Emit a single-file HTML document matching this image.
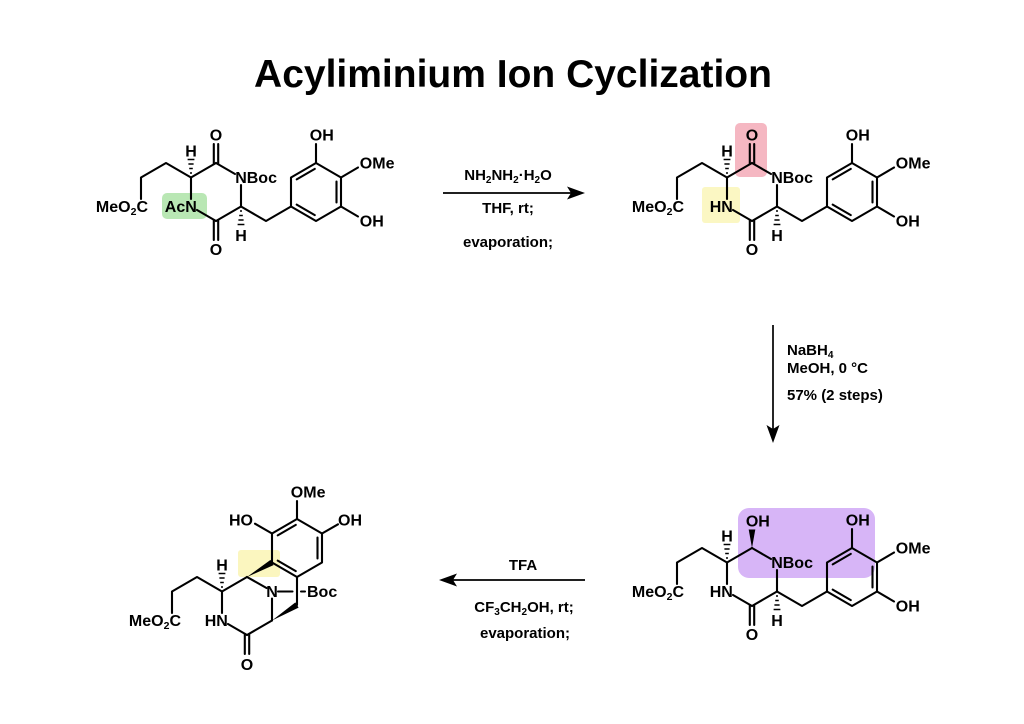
<!DOCTYPE html>
<html>
<head>
<meta charset="utf-8">
<style>
  html,body{margin:0;padding:0;background:#fff;}
  svg{display:block;}
  text{font-family:"Liberation Sans",Arial,sans-serif;font-weight:bold;font-size:15px;fill:#000;}
  .m text{font-size:16px;}
</style>
</head>
<body>
<svg width="1024" height="724" viewBox="0 0 1024 724" xmlns="http://www.w3.org/2000/svg">
  <rect width="1024" height="724" fill="#fff"/>

  <!-- Title -->
  <text x="513" y="87" text-anchor="middle" style="font-size:39px" fill="#000">Acyliminium Ion Cyclization</text>

  <!-- ========== Molecule 1 (top-left) ========== -->
  <g class="m" transform="translate(216,163)">
    <rect x="-54" y="30" width="45" height="26" rx="5" fill="#b9e7b4"/>
    <g stroke="#000" stroke-width="2.1" fill="none" stroke-linecap="round" stroke-linejoin="round">
      <line x1="-25" y1="14.5" x2="0" y2="0"/>
      <line x1="0" y1="0" x2="19" y2="11"/>
      <line x1="25" y1="22" x2="25" y2="43.5"/>
      <line x1="25" y1="43.5" x2="0" y2="58"/>
      <line x1="0" y1="58" x2="-19" y2="47"/>
      <line x1="-25" y1="36" x2="-25" y2="14.5"/>
      <line x1="-2.2" y1="1" x2="-2.2" y2="-19"/>
      <line x1="2.2" y1="1" x2="2.2" y2="-19"/>
      <line x1="-2.2" y1="57" x2="-2.2" y2="77"/>
      <line x1="2.2" y1="57" x2="2.2" y2="77"/>
      <polyline points="-25,14.5 -50,0 -75,14.5 -75,36"/>
      <polyline points="25,43.5 50,58 75,43.5"/>
      <polygon points="75,43.5 75,14.5 100,0 125,14.5 125,43.5 100,58"/>
      <line x1="80.7" y1="16.4" x2="98.8" y2="5.9"/>
      <line x1="120.5" y1="18.5" x2="120.5" y2="39.5"/>
      <line x1="98.8" y1="52.1" x2="80.7" y2="41.6"/>
      <line x1="100" y1="0" x2="100" y2="-19"/>
      <line x1="125" y1="14.5" x2="142" y2="4.5"/>
      <line x1="125" y1="43.5" x2="142" y2="53.5"/>
    </g>
    <g stroke="#000" stroke-width="1.5">
      <line x1="-26" y1="10" x2="-24" y2="10"/>
      <line x1="-26.8" y1="5.5" x2="-23.2" y2="5.5"/>
      <line x1="-27.6" y1="1" x2="-22.4" y2="1"/>
      <line x1="-28.4" y1="-3.5" x2="-21.6" y2="-3.5"/>
      <line x1="24" y1="48" x2="26" y2="48"/>
      <line x1="23.2" y1="52.5" x2="26.8" y2="52.5"/>
      <line x1="22.4" y1="57" x2="27.6" y2="57"/>
      <line x1="21.6" y1="61.5" x2="28.4" y2="61.5"/>
    </g>
    <text x="0" y="-22.3" text-anchor="middle">O</text>
    <text x="0" y="91.8" text-anchor="middle">O</text>
    <text x="-25" y="-6.5" text-anchor="middle">H</text>
    <text x="25" y="78" text-anchor="middle">H</text>
    <text x="19.2" y="20.2">NBoc</text>
    <text x="-19.2" y="49.2" text-anchor="end">AcN</text>
    <text x="-68" y="49.2" text-anchor="end">MeO<tspan style="font-size:10.5px" dy="3">2</tspan><tspan dy="-3">C</tspan></text>
    <text x="93.8" y="-22.3">OH</text>
    <text x="143.8" y="5.7">OMe</text>
    <text x="143.8" y="63.7">OH</text>
  </g>

  <!-- Arrow 1 -->
  <line x1="443" y1="193" x2="572" y2="193" stroke="#000" stroke-width="1.7"/>
  <polygon points="585,193 567,186.5 571,193 567,199.5" fill="#000"/>
  <text x="508" y="180" text-anchor="middle">NH<tspan style="font-size:10px" dy="3">2</tspan><tspan dy="-3">NH</tspan><tspan style="font-size:10px" dy="3">2</tspan><tspan dy="-3">·H</tspan><tspan style="font-size:10px" dy="3">2</tspan><tspan dy="-3">O</tspan></text>
  <text x="508" y="213" text-anchor="middle">THF, rt;</text>
  <text x="508" y="247" text-anchor="middle">evaporation;</text>

  <!-- ========== Molecule 2 (top-right) ========== -->
  <g class="m" transform="translate(752,163)">
    <rect x="-17" y="-40" width="32" height="54" rx="5" fill="#f5b7c2"/>
    <rect x="-50" y="24" width="38" height="36" rx="3" fill="#fbf7c3"/>
    <g stroke="#000" stroke-width="2.1" fill="none" stroke-linecap="round" stroke-linejoin="round">
      <line x1="-25" y1="14.5" x2="0" y2="0"/>
      <line x1="0" y1="0" x2="19" y2="11"/>
      <line x1="25" y1="22" x2="25" y2="43.5"/>
      <line x1="25" y1="43.5" x2="0" y2="58"/>
      <line x1="0" y1="58" x2="-19" y2="47"/>
      <line x1="-25" y1="36" x2="-25" y2="14.5"/>
      <line x1="-2.2" y1="1" x2="-2.2" y2="-19"/>
      <line x1="2.2" y1="1" x2="2.2" y2="-19"/>
      <line x1="-2.2" y1="57" x2="-2.2" y2="77"/>
      <line x1="2.2" y1="57" x2="2.2" y2="77"/>
      <polyline points="-25,14.5 -50,0 -75,14.5 -75,36"/>
      <polyline points="25,43.5 50,58 75,43.5"/>
      <polygon points="75,43.5 75,14.5 100,0 125,14.5 125,43.5 100,58"/>
      <line x1="80.7" y1="16.4" x2="98.8" y2="5.9"/>
      <line x1="120.5" y1="18.5" x2="120.5" y2="39.5"/>
      <line x1="98.8" y1="52.1" x2="80.7" y2="41.6"/>
      <line x1="100" y1="0" x2="100" y2="-19"/>
      <line x1="125" y1="14.5" x2="142" y2="4.5"/>
      <line x1="125" y1="43.5" x2="142" y2="53.5"/>
    </g>
    <g stroke="#000" stroke-width="1.5">
      <line x1="-26" y1="10" x2="-24" y2="10"/>
      <line x1="-26.8" y1="5.5" x2="-23.2" y2="5.5"/>
      <line x1="-27.6" y1="1" x2="-22.4" y2="1"/>
      <line x1="-28.4" y1="-3.5" x2="-21.6" y2="-3.5"/>
      <line x1="24" y1="48" x2="26" y2="48"/>
      <line x1="23.2" y1="52.5" x2="26.8" y2="52.5"/>
      <line x1="22.4" y1="57" x2="27.6" y2="57"/>
      <line x1="21.6" y1="61.5" x2="28.4" y2="61.5"/>
    </g>
    <text x="0" y="-22.3" text-anchor="middle">O</text>
    <text x="0" y="91.8" text-anchor="middle">O</text>
    <text x="-25" y="-6.5" text-anchor="middle">H</text>
    <text x="25" y="78" text-anchor="middle">H</text>
    <text x="19.2" y="20.2">NBoc</text>
    <text x="-19.2" y="49.2" text-anchor="end">HN</text>
    <text x="-68" y="49.2" text-anchor="end">MeO<tspan style="font-size:10.5px" dy="3">2</tspan><tspan dy="-3">C</tspan></text>
    <text x="93.8" y="-22.3">OH</text>
    <text x="143.8" y="5.7">OMe</text>
    <text x="143.8" y="63.7">OH</text>
  </g>

  <!-- Arrow 2 (vertical) -->
  <line x1="773" y1="325" x2="773" y2="430" stroke="#000" stroke-width="1.7"/>
  <polygon points="773,443 766.5,425 773,429 779.5,425" fill="#000"/>
  <text x="787" y="355">NaBH<tspan style="font-size:10px" dy="3">4</tspan></text>
  <text x="787" y="373">MeOH, 0 °C</text>
  <text x="787" y="400">57% (2 steps)</text>

  <!-- ========== Molecule 3 (bottom-right) ========== -->
  <g class="m" transform="translate(752,548)">
    <rect x="-14" y="-40" width="137" height="70" rx="11" fill="#d7b5f7"/>
    <g stroke="#000" stroke-width="2.1" fill="none" stroke-linecap="round" stroke-linejoin="round">
      <line x1="-25" y1="14.5" x2="0" y2="0"/>
      <line x1="0" y1="0" x2="19" y2="11"/>
      <line x1="25" y1="22" x2="25" y2="43.5"/>
      <line x1="25" y1="43.5" x2="0" y2="58"/>
      <line x1="0" y1="58" x2="-19" y2="47"/>
      <line x1="-25" y1="36" x2="-25" y2="14.5"/>
      <line x1="-2.2" y1="57" x2="-2.2" y2="77"/>
      <line x1="2.2" y1="57" x2="2.2" y2="77"/>
      <polyline points="-25,14.5 -50,0 -75,14.5 -75,36"/>
      <polyline points="25,43.5 50,58 75,43.5"/>
      <polygon points="75,43.5 75,14.5 100,0 125,14.5 125,43.5 100,58"/>
      <line x1="80.7" y1="16.4" x2="98.8" y2="5.9"/>
      <line x1="120.5" y1="18.5" x2="120.5" y2="39.5"/>
      <line x1="98.8" y1="52.1" x2="80.7" y2="41.6"/>
      <line x1="100" y1="0" x2="100" y2="-19"/>
      <line x1="125" y1="14.5" x2="142" y2="4.5"/>
      <line x1="125" y1="43.5" x2="142" y2="53.5"/>
    </g>
    <polygon points="0,0 -3.3,-18.5 3.3,-18.5" fill="#000"/>
    <g stroke="#000" stroke-width="1.5">
      <line x1="-26" y1="10" x2="-24" y2="10"/>
      <line x1="-26.8" y1="5.5" x2="-23.2" y2="5.5"/>
      <line x1="-27.6" y1="1" x2="-22.4" y2="1"/>
      <line x1="-28.4" y1="-3.5" x2="-21.6" y2="-3.5"/>
      <line x1="24" y1="48" x2="26" y2="48"/>
      <line x1="23.2" y1="52.5" x2="26.8" y2="52.5"/>
      <line x1="22.4" y1="57" x2="27.6" y2="57"/>
      <line x1="21.6" y1="61.5" x2="28.4" y2="61.5"/>
    </g>
    <text x="-6.2" y="-21.5">OH</text>
    <text x="0" y="91.8" text-anchor="middle">O</text>
    <text x="-25" y="-6.5" text-anchor="middle">H</text>
    <text x="25" y="78" text-anchor="middle">H</text>
    <text x="19.2" y="20.2">NBoc</text>
    <text x="-19.2" y="49.2" text-anchor="end">HN</text>
    <text x="-68" y="49.2" text-anchor="end">MeO<tspan style="font-size:10.5px" dy="3">2</tspan><tspan dy="-3">C</tspan></text>
    <text x="93.8" y="-22.3">OH</text>
    <text x="143.8" y="5.7">OMe</text>
    <text x="143.8" y="63.7">OH</text>
  </g>

  <!-- Arrow 3 (leftward) -->
  <line x1="585" y1="580" x2="452" y2="580" stroke="#000" stroke-width="1.7"/>
  <polygon points="439,580 457,573.5 453,580 457,586.5" fill="#000"/>
  <text x="523" y="570" text-anchor="middle">TFA</text>
  <text x="524" y="612" text-anchor="middle">CF<tspan style="font-size:10px" dy="3">3</tspan><tspan dy="-3">CH</tspan><tspan style="font-size:10px" dy="3">2</tspan><tspan dy="-3">OH, rt;</tspan></text>
  <text x="525" y="638" text-anchor="middle">evaporation;</text>

  <!-- ========== Molecule 4 (bottom-left) ========== -->
  <g class="m" transform="translate(247,577)">
    <rect x="-9" y="-27" width="42" height="27" rx="3" fill="#fbf6bf"/>
    <g stroke="#000" stroke-width="2.1" fill="none" stroke-linecap="round" stroke-linejoin="round">
      <line x1="-25" y1="14.5" x2="0" y2="0"/>
      <line x1="0" y1="0" x2="19.5" y2="11"/>
      <line x1="25" y1="21.5" x2="25" y2="43.5"/>
      <line x1="25" y1="43.5" x2="0" y2="58"/>
      <line x1="0" y1="58" x2="-19" y2="47"/>
      <line x1="-25" y1="36" x2="-25" y2="14.5"/>
      <line x1="-2.2" y1="57" x2="-2.2" y2="77"/>
      <line x1="2.2" y1="57" x2="2.2" y2="77"/>
      <polyline points="-25,14.5 -50,0 -75,14.5 -75,36"/>
      <polygon points="25,-14.5 25,-43.5 50,-58 75,-43.5 75,-14.5 50,0"/>
      <line x1="30.7" y1="-41.6" x2="48.8" y2="-52.1"/>
      <line x1="70.5" y1="-39.5" x2="70.5" y2="-18.5"/>
      <line x1="48.8" y1="-5.9" x2="30.7" y2="-16.4"/>
      <line x1="50" y1="0" x2="50" y2="28"/>
      <line x1="31" y1="14.5" x2="45.5" y2="14.5"/>
      <line x1="54" y1="14.5" x2="58" y2="14.5"/>
      <line x1="25" y1="-43.5" x2="8" y2="-53.3"/>
      <line x1="50" y1="-58" x2="50" y2="-76"/>
      <line x1="75" y1="-43.5" x2="91" y2="-52.7"/>
    </g>
    <polygon points="0,0 26.5,-11.9 23.5,-17.1" fill="#000"/>
    <polygon points="25,43.5 51.6,30.6 48.4,25.4" fill="#000"/>
    <g stroke="#000" stroke-width="1.5">
      <line x1="-26" y1="10" x2="-24" y2="10"/>
      <line x1="-26.8" y1="5.5" x2="-23.2" y2="5.5"/>
      <line x1="-27.6" y1="1" x2="-22.4" y2="1"/>
      <line x1="-28.4" y1="-3.5" x2="-21.6" y2="-3.5"/>
    </g>
    <text x="-25" y="-6.5" text-anchor="middle">H</text>
    <text x="25" y="20.2" text-anchor="middle">N</text>
    <text x="60" y="20.2">Boc</text>
    <text x="-19.2" y="49.2" text-anchor="end">HN</text>
    <text x="0" y="93" text-anchor="middle">O</text>
    <text x="-66" y="49.2" text-anchor="end">MeO<tspan style="font-size:10.5px" dy="3">2</tspan><tspan dy="-3">C</tspan></text>
    <text x="6" y="-51.3" text-anchor="end">HO</text>
    <text x="43.8" y="-79.3">OMe</text>
    <text x="91" y="-51.3">OH</text>
  </g>
</svg>
</body>
</html>
